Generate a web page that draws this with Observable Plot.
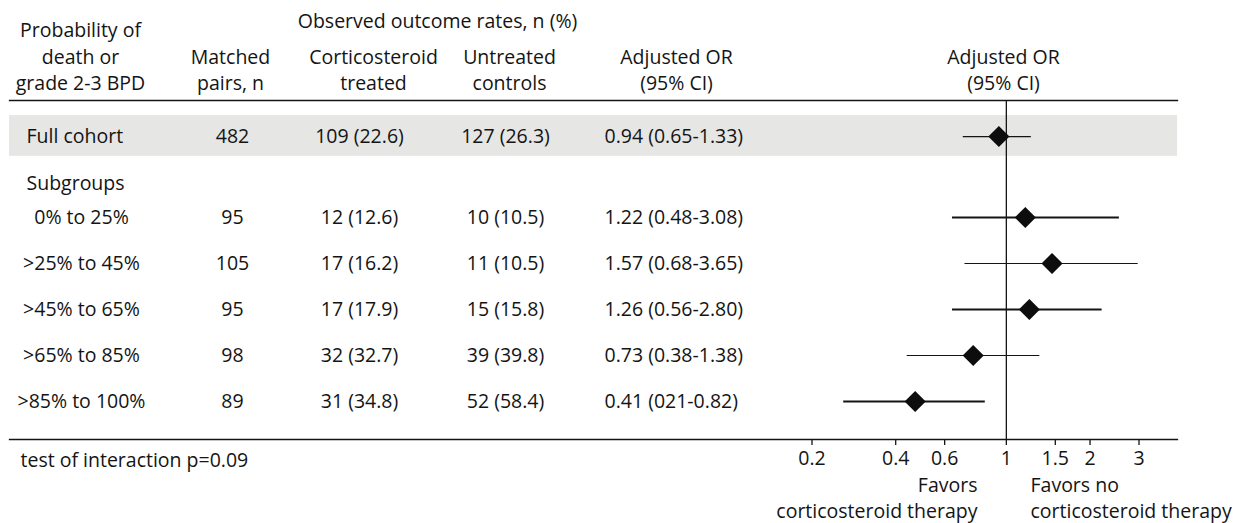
<!DOCTYPE html>
<html><head><meta charset="utf-8">
<script src="https://cdn.jsdelivr.net/npm/d3@7"></script>
<script src="https://cdn.jsdelivr.net/npm/@observablehq/plot@0.6"></script>
<style>
body{margin:0;background:#fff;}
#chart svg{display:block;}
</style>
</head><body><div id="chart"></div>
<script>
// ---- data ----
const rowLabels = ["Full cohort", "0% to 25%", ">25% to 45%", ">45% to 65%", ">65% to 85%", ">85% to 100%"];
const matchedPairs = [482, 95, 105, 95, 98, 89];
const treatedRates = ["109 (22.6)", "12 (12.6)", "17 (16.2)", "17 (17.9)", "32 (32.7)", "31 (34.8)"];
const controlRates = ["127 (26.3)", "10 (10.5)", "11 (10.5)", "15 (15.8)", "39 (39.8)", "52 (58.4)"];
const orLabels = ["0.94 (0.65-1.33)", "1.22 (0.48-3.08)", "1.57 (0.68-3.65)", "1.26 (0.56-2.80)", "0.73 (0.38-1.38)", "0.41 (021-0.82)"];
// plotted odds ratios as drawn in the figure
const orPoint = [0.94, 1.17, 1.46, 1.21, 0.76, 0.47];
const orLow   = [0.70, 0.64, 0.71, 0.64, 0.44, 0.26];
const orHigh  = [1.23, 2.55, 2.98, 2.21, 1.32, 0.84];
const axisTicks = [0.2, 0.4, 0.6, 1, 1.5, 2, 3];
const subgroupLabel = "Subgroups";
const footnote = "test of interaction p=0.09";
const favorsLeft = "Favors\ncorticosteroid therapy";
const favorsRight = "Favors no\ncorticosteroid therapy";

// ---- layout ----
const W = 1243, H = 523, mL = 9, mR = 66, mT = 100, mB = 84;
const FS = 19.5;
const ink = "#141414";
const rowPos = i => (i === 0 ? -1.76 : i - 1);   // full cohort sits above the subgroup block

const rows = rowLabels.map((label, i) => ({
  label, pairs: matchedPairs[i], treated: treatedRates[i], control: controlRates[i],
  orText: orLabels[i], pt: orPoint[i], lo: orLow[i], hi: orHigh[i], yy: rowPos(i), i
}));

const col = (cx) => cx - mL;   // dx from the frame's left edge

const headers = [
  {text: "Probability of\ndeath or\ngrade 2-3 BPD", cx: 80, cy: 54.5},
  {text: "Matched\npairs, n", cx: 230, cy: 68},
  {text: "Observed outcome rates, n (%)", cx: 437, cy: 19},
  {text: "Corticosteroid\ntreated", cx: 373, cy: 68},
  {text: "Untreated\ncontrols", cx: 509, cy: 68},
  {text: "Adjusted OR\n(95% CI)", cx: 676, cy: 68},
  {text: "Adjusted OR\n(95% CI)", cx: 1003, cy: 68}
];

const chart = Plot.plot({
  width: W, height: H,
  marginLeft: mL, marginRight: mR, marginTop: mT, marginBottom: mB,
  style: {fontFamily: "'Open Sans', sans-serif", fontSize: FS + "px", color: ink, background: "#fff"},
  x: {type: "log", domain: [0.2, 3], range: [811.5, 1138.5]},
  y: {domain: [0, 4], range: [217, 401], axis: null},
  marks: [
    // shaded full-cohort band
    Plot.rect([rows[0]], {y1: d => d.yy - 0.455, y2: d => d.yy + 0.43, fill: "#e6e6e5"}),
    Plot.frame({anchor: "top", stroke: ink, strokeWidth: 1.3}),
    Plot.frame({anchor: "bottom", stroke: ink, strokeWidth: 1.3}),
    Plot.ruleX([1], {stroke: ink, strokeWidth: 1.3}),
    // CIs and estimates
    Plot.ruleY(rows, {y: "yy", x1: "lo", x2: "hi", stroke: ink, strokeWidth: d => (d.i % 2 === 1 ? 2.2 : 1.2)}),
    Plot.dot(rows, {x: "pt", y: "yy", symbol: "diamond2", r: 9.5, fill: "#0d0d0d", stroke: "none"}),
    // axis
    Plot.axisX({ticks: axisTicks, tickFormat: d => String(d), tickSize: 6, tickPadding: 6, fontSize: FS, anchor: "bottom", stroke: ink, strokeWidth: 1.3, label: null}),
    // table columns
    Plot.text(rows.filter(d => d.i > 0), {y: "yy", frameAnchor: "left", dx: col(81), text: "label", textAnchor: "middle", fontSize: FS, fill: ink}),
    Plot.text(rows.filter(d => d.i === 0), {y: "yy", frameAnchor: "left", dx: col(26), text: "label", textAnchor: "start", fontSize: FS, fill: ink}),
    Plot.text([subgroupLabel], {y: rowPos(1) - 0.74, frameAnchor: "left", dx: col(26), text: d => d, textAnchor: "start", fontSize: FS, fill: ink}),
    Plot.text(rows, {y: "yy", frameAnchor: "left", dx: col(232), text: d => String(d.pairs), textAnchor: "middle", fontSize: FS, fill: ink}),
    Plot.text(rows, {y: "yy", frameAnchor: "left", dx: col(359), text: "treated", textAnchor: "middle", fontSize: FS, fill: ink}),
    Plot.text(rows, {y: "yy", frameAnchor: "left", dx: col(505), text: "control", textAnchor: "middle", fontSize: FS, fill: ink}),
    Plot.text(rows, {y: "yy", frameAnchor: "left", dx: col(604), text: "orText", textAnchor: "start", fontSize: FS, fill: ink}),
    // headers
    ...headers.map(h => Plot.text([h], {frameAnchor: "top-left", dx: col(h.cx), dy: h.cy - mT, text: "text", textAnchor: "middle", lineAnchor: "middle", lineHeight: 1.36, fontSize: FS, fill: ink})),
    // footnote and direction labels
    Plot.text([footnote], {frameAnchor: "bottom-left", dx: col(20), dy: 21, text: d => d, textAnchor: "start", lineAnchor: "middle", fontSize: FS, fill: ink}),
    Plot.text([favorsLeft], {frameAnchor: "bottom-left", dx: col(977), dy: 57, text: d => d, textAnchor: "end", lineAnchor: "middle", lineHeight: 1.33, fontSize: FS, fill: ink}),
    Plot.text([favorsRight], {frameAnchor: "bottom-left", dx: col(1030), dy: 57, text: d => d, textAnchor: "start", lineAnchor: "middle", lineHeight: 1.33, fontSize: FS, fill: ink})
  ]
});
document.getElementById("chart").appendChild(chart);
</script>
</body></html>
